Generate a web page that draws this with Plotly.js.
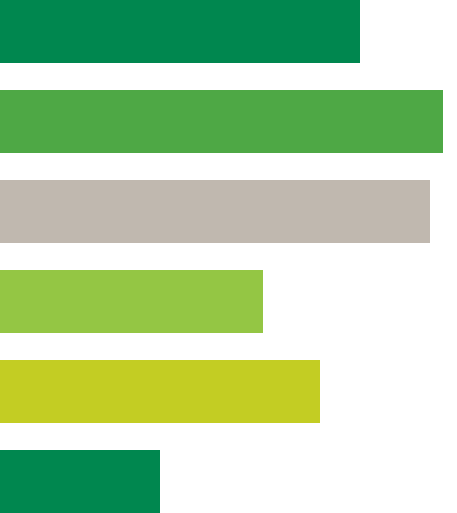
<!DOCTYPE html>
<html>
<head>
<meta charset="utf-8">
<script src="https://cdn.plot.ly/plotly-3.0.1.min.js"></script>
<style>
  html, body { margin: 0; padding: 0; background: #fff; }
  #chart { width: 457px; height: 513px; }
</style>
</head>
<body>
<div id="chart"></div>
<script>
// bar data, top to bottom
const categories = ["A", "B", "C", "D", "E", "F"];
const values = [360, 443, 430, 263, 320, 160];
const colors = ["#00874f", "#4ea845", "#c0b8af", "#94c644", "#c3cd23", "#00874f"];

var data = [{
    type: 'bar',
    orientation: 'h',
    y: categories,
    x: values,
    marker: { color: colors, line: { width: 0 } },
    hoverinfo: 'none'
}];

var layout = {
    width: 457,
    height: 513,
    margin: { l: 0, r: 0, t: 0, b: 0 },
    paper_bgcolor: '#ffffff',
    plot_bgcolor: '#ffffff',
    showlegend: false,
    bargap: 0.3,
    xaxis: {
        range: [0, 457],
        visible: false,
        fixedrange: true
    },
    yaxis: {
        type: 'category',
        range: [5.35, -0.35],
        visible: false,
        fixedrange: true
    }
};

Plotly.newPlot('chart', data, layout, { displayModeBar: false, staticPlot: true });
</script>
</body>
</html>
